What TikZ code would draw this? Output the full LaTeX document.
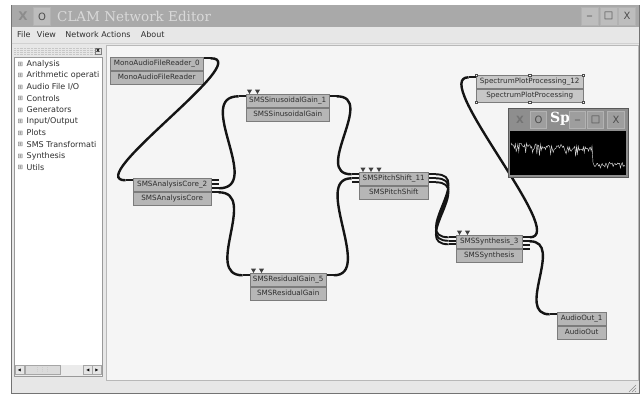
\documentclass[tikz,border=0pt]{standalone}
\usepackage{fontspec}
\setmainfont{DejaVu Sans}
\newfontfamily\titlefont{DejaVu Serif}
\usepackage{tikz}
\usetikzlibrary{shapes, positioning, calc}
\definecolor{titlegray}{HTML}{A9A9A9}
\definecolor{plottitle}{HTML}{8E8E8E}
\definecolor{menugray}{HTML}{E7E7E7}
\definecolor{canvasgray}{HTML}{F5F5F5}
\definecolor{boxgray}{HTML}{B6B6B6}
\definecolor{boxline}{HTML}{7C7C7C}
\definecolor{textgray}{HTML}{2E2E2E}
\definecolor{buttongray}{HTML}{BDBDBD}

\begin{document}
\begin{tikzpicture}[x=1pt, y=-1pt]
        % Define block styles
        \tikzstyle{procname} = [rectangle, draw=boxline, fill=boxgray, text=textgray, font=\fontsize{7.2}{8}\selectfont, inner xsep=1pt, inner ysep=3.2pt, text height=5.3pt, text depth=1.6pt]
        \tikzstyle{port} = [rectangle, fill=black!90, inner sep=0pt, minimum width=7pt, minimum height=2.2pt]
        \tikzstyle{ctrlport} = [regular polygon, regular polygon sides=3, shape border rotate=180, fill=black!75, inner sep=0pt, minimum size=6pt]
        \tikzstyle{wire} = [draw=black!92, line width=2.4pt]
        \tikzstyle{winbutton} = [rectangle, draw=black!30, fill=buttongray, minimum width=17pt, minimum height=18pt, inner sep=0pt, text=black!70, font=\fontsize{10}{10}\selectfont]
        \tikzstyle{menuitem} = [anchor=west, inner sep=0pt, text=textgray, font=\fontsize{8}{9}\selectfont]
        \tikzstyle{treeitem} = [menuitem]
        \tikzstyle{handle} = [rectangle, draw=black!70, fill=white, inner sep=0pt, minimum size=2.5pt]

        % Window
        \fill[white] (0,0) rectangle (644,396);
        \useasboundingbox (0,0) rectangle (644,396);
        \draw[black!55, fill=menugray] (11,5) rectangle (639,393);
        \fill[titlegray] (11.5,5.5) rectangle (638.5,27);
        \node[text=black!45, font=\fontsize{12}{12}\selectfont\bfseries] (appicon) at (23,16.5) {X};
        \node[winbutton] (stickybtn) at (42,16.5) {O};
        \node[anchor=west, inner sep=0pt, text=white!85!black, font=\titlefont\fontsize{13.5}{14}\selectfont] (title) at (57,16.5) {CLAM Network Editor};
        \node[winbutton] (minbtn) at (589.5,16) {\_};
        \node[winbutton] (maxbtn) at (608.5,16) {□};
        \node[winbutton] (closebtn) at (627,16) {X};

        % Menu
        \node[menuitem] (menufile) at (17,35) {File};
        \node[menuitem, right=6pt of menufile] (menuview) {View};
        \node[menuitem, right=9pt of menuview] (menunetwork) {Network Actions};
        \node[menuitem, right=10pt of menunetwork] (menuabout) {About};
        \draw[black!18] (11.5,43) -- (638.5,43);

        % Processing tree
        \foreach \yy in {48.5,50.5,52.5,54.5}
            \draw[black!22, densely dotted] (14,\yy) -- (94,\yy);
        \node[draw=black!50, fill=black!12, minimum size=6pt, inner sep=0pt, font=\fontsize{6}{6}\selectfont\bfseries] (dockclose) at (98,51) {x};
        \draw[black!40, fill=white] (14,57) rectangle (102,376);
        \foreach \name [count=\i from 0] in {Analysis, Arithmetic operati, Audio File I/O, Controls, Generators, Input/Output, Plots, SMS Transformati, Synthesis, Utils} {
            \node[treeitem, text=black!60, font=\fontsize{6.5}{7}\selectfont] (expand\i) at (17.5,{64+11.5*\i}) {⊞};
            \node[treeitem] (tree\i) at (26.5,{64+11.5*\i}) {\name};
        }
        \fill[black!8] (15,365) rectangle (101,375.5);
        \node[draw=black!35, fill=black!10, minimum width=9pt, minimum height=9pt, inner sep=0pt, font=\fontsize{4}{4}\selectfont] (scrollleft) at (19.5,370) {◀};
        \node[draw=black!35, fill=black!14, minimum width=35pt, minimum height=9pt, inner sep=0pt, text=black!30, font=\fontsize{5}{5}\selectfont] (scrollslider) at (42.5,370) {⋮⋮⋮};
        \node[draw=black!35, fill=black!10, minimum width=9pt, minimum height=9pt, inner sep=0pt, font=\fontsize{4}{4}\selectfont] (scrollback) at (88,370) {◀};
        \node[draw=black!35, fill=black!10, minimum width=9pt, minimum height=9pt, inner sep=0pt, font=\fontsize{4}{4}\selectfont] (scrollright) at (97,370) {▶};

        % Canvas
        \draw[black!28, fill=canvasgray] (106,45) rectangle (638,380);
        \foreach \k in {0,3,6}
            \draw[black!45] (636,385+\k) -- (629+\k,392);

        % Processings
        \node[procname, anchor=north west, minimum width=93pt] (reader) at (110,57) {MonoAudioFileReader\_0};
        \node[procname, below=0pt of reader, minimum width=93pt] (reader-t) {MonoAudioFileReader};
        \node[procname, anchor=north west, minimum width=78pt] (core) at (133,178) {SMSAnalysisCore\_2};
        \node[procname, below=0pt of core, minimum width=78pt] (core-t) {SMSAnalysisCore};
        \node[procname, anchor=north west, minimum width=83pt] (sin) at (246,94) {SMSSinusoidalGain\_1};
        \node[procname, below=0pt of sin, minimum width=83pt] (sin-t) {SMSSinusoidalGain};
        \node[procname, anchor=north west, minimum width=76pt] (res) at (250,273) {SMSResidualGain\_5};
        \node[procname, below=0pt of res, minimum width=76pt] (res-t) {SMSResidualGain};
        \node[procname, anchor=north west, minimum width=69pt] (pitch) at (359,172) {SMSPitchShift\_11};
        \node[procname, below=0pt of pitch, minimum width=69pt] (pitch-t) {SMSPitchShift};
        \node[procname, anchor=north west, minimum width=66pt] (synth) at (456,235) {SMSSynthesis\_3};
        \node[procname, below=0pt of synth, minimum width=66pt] (synth-t) {SMSSynthesis};
        \node[procname, anchor=north west, minimum width=107pt, fill=black!22] (spec) at (476,75) {SpectrumPlotProcessing\_12};
        \node[procname, below=0pt of spec, minimum width=107pt, fill=black!22] (spec-t) {SpectrumPlotProcessing};
        \node[procname, anchor=north west, minimum width=49pt] (out) at (557,312) {AudioOut\_1};
        \node[procname, below=0pt of out, minimum width=49pt] (out-t) {AudioOut};

        \foreach \a [count=\i] in {spec.north west, spec.north, spec.north east, spec-t.south west, spec-t.south, spec-t.south east}
            \node[handle] (handle\i) at (\a) {};

        % Ports
        \node[port, anchor=north west] (reader-o1) at (reader.north east) {};
        \node[port, anchor=north east] (core-i1) at ($(core.north west)+(0,1)$) {};
        \foreach \k in {1,...,4}
            \node[port, anchor=north west] (core-o\k) at ($(core.north east)+(0,{4*\k-3})$) {};
        \node[port, anchor=north east] (sin-i1) at ($(sin.north west)+(0,1)$) {};
        \node[port, anchor=north west] (sin-o1) at ($(sin.north east)+(0,1)$) {};
        \node[port, anchor=north east] (res-i1) at ($(res.north west)+(0,1)$) {};
        \node[port, anchor=north west] (res-o1) at ($(res.north east)+(0,1)$) {};
        \foreach \k in {1,2,3} {
            \node[port, anchor=north east] (pitch-i\k) at ($(pitch.north west)+(0,{4*\k-3})$) {};
            \node[port, anchor=north west] (pitch-o\k) at ($(pitch.north east)+(0,{4*\k-3})$) {};
            \node[port, anchor=north east] (synth-i\k) at ($(synth.north west)+(0,{3.5*\k-2.5})$) {};
        }
        \foreach \k in {1,...,4}
            \node[port, anchor=north west] (synth-o\k) at ($(synth.north east)+(0,{4*\k-3})$) {};
        \node[port, anchor=north east] (spec-i1) at ($(spec.north west)+(0,1)$) {};
        \node[port, anchor=north east] (out-i1) at ($(out.north west)+(0,1)$) {};

        \node[ctrlport] (sin-c1) at (249.5,91) {};
        \node[ctrlport] (sin-c2) at (257.5,91) {};
        \node[ctrlport] (res-c1) at (253.5,270) {};
        \node[ctrlport] (res-c2) at (261.5,270) {};
        \node[ctrlport] (pitch-c1) at (363,169) {};
        \node[ctrlport] (pitch-c2) at (371,169) {};
        \node[ctrlport] (pitch-c3) at (379,169) {};
        \node[ctrlport] (synth-c1) at (459.5,232) {};
        \node[ctrlport] (synth-c2) at (467.5,232) {};

        % Paths
        \path [wire] (reader-o1.east) .. controls +(45,0) and +(-45,0) .. (core-i1.west);
        \path [wire] (core-o3.east) .. controls +(45,0) and +(-45,0) .. (sin-i1.west);
        \path [wire] (core-o4.east) .. controls +(40,0) and +(-40,0) .. (res-i1.west);
        \path [wire] (sin-o1.east) .. controls +(40,0) and +(-40,0) .. (pitch-i1.west);
        \path [wire] (res-o1.east) .. controls +(40,0) and +(-40,0) .. (pitch-i2.west);
        \foreach \k in {1,2,3}
            \path [wire, line width=1.9pt] (pitch-o\k.east) .. controls +(38,0) and +(-38,0) .. (synth-i\k.west);
        \path [wire] (synth-o1.east) .. controls +(40,0) and +(-40,0) .. (spec-i1.west);
        \path [wire] (synth-o2.east) .. controls +(35,0) and +(-35,0) .. (out-i1.west);

        % Plot window
        \draw[black!65, fill=plottitle] (508,108) rectangle (628,177);
        \node[text=black!55, font=\fontsize{10}{10}\selectfont\bfseries] (ploticon) at (520,119.5) {X};
        \node[winbutton, fill=black!38, minimum width=16pt, minimum height=17pt] (plotsticky) at (538.5,119.5) {O};
        \node[text=white, font=\titlefont\fontsize{14}{14}\selectfont\bfseries] (plottitle) at (560,118.5) {Sp};
        \node[winbutton, fill=black!38, minimum width=16pt, minimum height=17pt] (plotmin) at (577.5,119.5) {\_};
        \node[winbutton, fill=black!38, minimum width=16pt, minimum height=17pt] (plotmax) at (595.5,119.5) {□};
        \node[winbutton, fill=black!38, minimum width=17pt, minimum height=17pt] (plotclose) at (616,119.5) {X};
        \fill[black] (510,131) rectangle (626,175);
        \pgfmathsetseed{12}
        \draw[white!85!black, line width=0.45pt] plot[domain=511:592, samples=95] (\x, {145+0.035*(\x-511)+11*rnd*rnd-2.5*rnd}) -- plot[domain=593:625, samples=36] (\x, {164+7*rnd*rnd-2*rnd});

    \end{tikzpicture}
\end{document}
